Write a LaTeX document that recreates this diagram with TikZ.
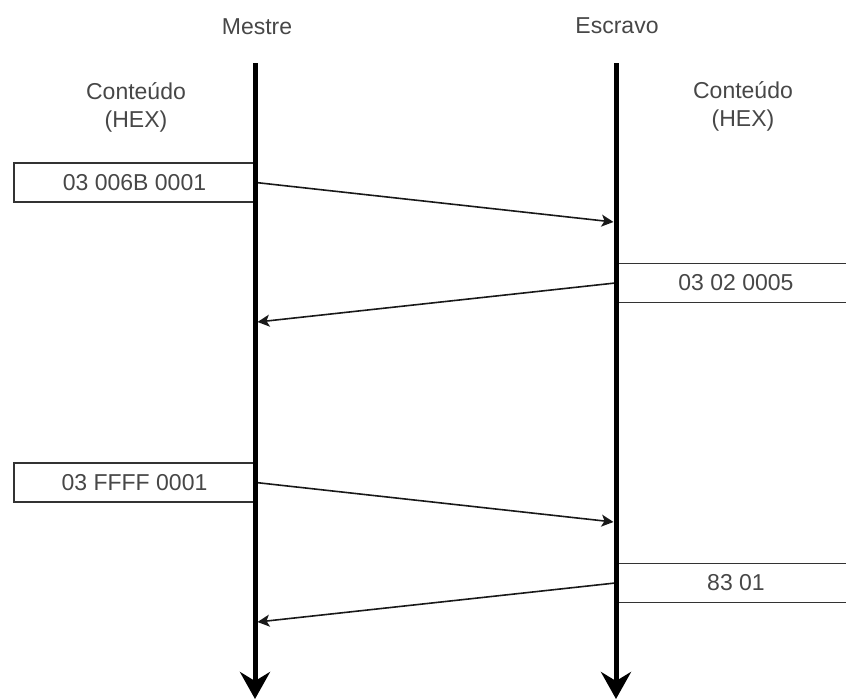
\documentclass[tikz,border=0pt]{standalone}
\usepackage{fontspec}
\setmainfont{Liberation Sans}
\usetikzlibrary{arrows.meta}
\begin{document}
\begin{tikzpicture}[x=1pt,y=-1pt,
  every node/.style={font=\fontsize{23}{28}\selectfont, text=black!72},
  lifeline/.style={line width=5pt, -{Stealth[length=27pt,width=30pt,inset=9pt]}},
  msg/.style={draw=black!90, line width=1.6pt, -{Stealth[length=12pt,width=12pt,inset=3pt]}},
  payload/.style={draw=black!80, line width=1.6pt, minimum height=39pt, inner sep=0pt},
  heading/.style={align=center}]
\useasboundingbox (0,0) rectangle (846,699);
\clip (0,0) rectangle (846,699);

% participant headings
\node (mestre)  at (257,27) {Mestre};
\node (escravo) at (617,26) {Escravo};
\node[heading] (hexL) at (136,107) {Conteúdo\\(HEX)};
\node[heading] (hexR) at (743,106) {Conteúdo\\(HEX)};

% frame contents
\node[payload, minimum width=241pt] (b1) at (134.5,182.5) {03 006B 0001};
\node[payload, minimum width=240pt] (b2) at (736,283) {03 02 0005};
\node[payload, minimum width=241pt] (b3) at (134.5,482.5) {03 FFFF 0001};
\node[payload, minimum width=240pt] (b4) at (736,583) {83 01};

% lifeline ends
\coordinate (mTop) at (255,63);
\coordinate (mBot) at (255,699);
\coordinate (eTop) at (616,63);
\coordinate (eBot) at (616,699);

% message arrival points
\coordinate (m1) at (613.5,222);
\coordinate (m2) at (257.5,322);
\coordinate (m3) at (613.5,522);
\coordinate (m4) at (257.5,622);

% messages
\draw[msg] (b1.east) -- (m1);
\draw[msg] (b2.west) -- (m2);
\draw[msg] (b3.east) -- (m3);
\draw[msg] (b4.west) -- (m4);

% lifelines
\draw[lifeline] (mTop) -- (mBot);
\draw[lifeline] (eTop) -- (eBot);
\end{tikzpicture}
\end{document}
